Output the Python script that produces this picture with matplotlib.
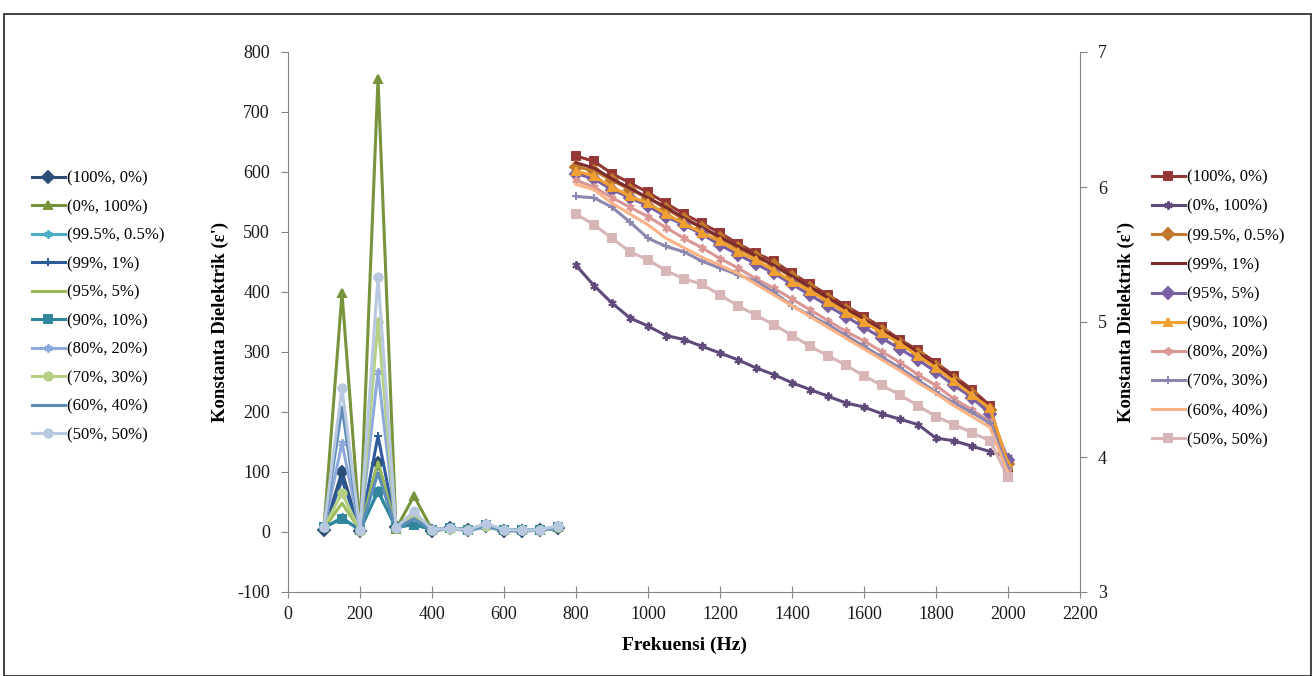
import matplotlib
matplotlib.use("Agg")
import matplotlib.pyplot as plt
from matplotlib.patches import Rectangle

plt.rcParams["font.family"] = ["Liberation Serif", "DejaVu Serif"]
plt.rcParams["axes.unicode_minus"] = False

# frequencies (Hz)
freq_low = [100, 150, 200, 250, 300, 350, 400, 450, 500, 550, 600, 650, 700, 750]
freq_high = [800, 850, 900, 950, 1000, 1050, 1100, 1150, 1200, 1250, 1300, 1350, 1400,
             1450, 1500, 1550, 1600, 1650, 1700, 1750, 1800, 1850, 1900, 1950, 2000]

labels = ["(100%, 0%)", "(0%, 100%)", "(99.5%, 0.5%)", "(99%, 1%)", "(95%, 5%)",
          "(90%, 10%)", "(80%, 20%)", "(70%, 30%)", "(60%, 40%)", "(50%, 50%)"]

# left axis series (low frequency)
low_100_0 = [3, 100, 1, 115, 8, 18, 2, 6, 3, 10, 2, 2, 3, 6]
low_0_100 = [8, 398, 3, 755, 5, 60, 4, 6, 5, 12, 4, 3, 4, 8]
low_995_05 = [6, 25, 2, 70, 6, 15, 3, 5, 3, 8, 3, 2, 3, 6]
low_99_1 = [5, 87, 2, 160, 7, 22, 3, 6, 4, 10, 3, 3, 3, 7]
low_95_5 = [6, 48, 3, 117, 8, 30, 3, 5, 4, 9, 3, 2, 3, 7]
low_90_10 = [8, 22, 4, 67, 8, 12, 4, 6, 4, 12, 4, 3, 4, 9]
low_80_20 = [7, 148, 2, 267, 6, 25, 3, 5, 3, 8, 3, 2, 3, 7]
low_70_30 = [8, 65, 2, 350, 6, 30, 3, 5, 4, 10, 3, 3, 3, 8]
low_60_40 = [7, 208, 2, 98, 6, 22, 3, 6, 4, 10, 3, 3, 3, 8]
low_50_50 = [8, 240, 3, 425, 7, 35, 4, 6, 4, 14, 4, 3, 4, 10]

# right axis series (high frequency)
high_100_0 = [6.23, 6.19, 6.10, 6.03, 5.96, 5.88, 5.80, 5.73, 5.66, 5.58, 5.51, 5.45, 5.36,
              5.28, 5.20, 5.12, 5.04, 4.96, 4.87, 4.79, 4.70, 4.60, 4.50, 4.38, 3.88]
high_0_100 = [5.42, 5.27, 5.14, 5.03, 4.97, 4.90, 4.87, 4.82, 4.77, 4.72, 4.66, 4.61, 4.55,
              4.50, 4.45, 4.40, 4.37, 4.32, 4.28, 4.24, 4.14, 4.12, 4.08, 4.04, 4.00]
high_995_05 = [6.15, 6.12, 6.05, 5.98, 5.92, 5.84, 5.76, 5.70, 5.62, 5.55, 5.48, 5.42, 5.33,
               5.25, 5.17, 5.09, 5.01, 4.93, 4.84, 4.76, 4.67, 4.57, 4.47, 4.35, 3.95]
high_99_1 = [6.18, 6.14, 6.06, 5.99, 5.92, 5.85, 5.77, 5.70, 5.63, 5.56, 5.49, 5.42, 5.34,
             5.26, 5.18, 5.10, 5.02, 4.94, 4.86, 4.77, 4.68, 4.58, 4.48, 4.36, 3.92]
high_95_5 = [6.10, 6.06, 5.98, 5.92, 5.86, 5.78, 5.72, 5.65, 5.57, 5.50, 5.43, 5.36, 5.28,
             5.20, 5.12, 5.04, 4.96, 4.88, 4.80, 4.72, 4.63, 4.53, 4.44, 4.32, 3.98]
high_90_10 = [6.12, 6.08, 6.00, 5.93, 5.88, 5.80, 5.73, 5.66, 5.60, 5.52, 5.46, 5.38, 5.30,
              5.23, 5.15, 5.07, 5.00, 4.92, 4.84, 4.75, 4.66, 4.56, 4.46, 4.36, 3.95]
high_80_20 = [6.05, 6.00, 5.92, 5.85, 5.78, 5.70, 5.62, 5.55, 5.47, 5.40, 5.32, 5.25, 5.17,
              5.09, 5.01, 4.93, 4.86, 4.78, 4.70, 4.61, 4.53, 4.43, 4.35, 4.26, 3.90]
high_70_30 = [5.93, 5.92, 5.85, 5.74, 5.62, 5.56, 5.52, 5.45, 5.40, 5.35, 5.30, 5.22, 5.12,
              5.05, 4.98, 4.90, 4.82, 4.74, 4.66, 4.57, 4.48, 4.40, 4.33, 4.25, 3.92]
high_60_40 = [6.02, 5.98, 5.88, 5.80, 5.72, 5.62, 5.55, 5.48, 5.42, 5.36, 5.28, 5.20, 5.12,
              5.04, 4.96, 4.88, 4.80, 4.72, 4.64, 4.55, 4.47, 4.38, 4.30, 4.22, 3.88]
high_50_50 = [5.80, 5.72, 5.62, 5.52, 5.46, 5.38, 5.32, 5.28, 5.20, 5.12, 5.05, 4.98, 4.90,
              4.82, 4.75, 4.68, 4.60, 4.53, 4.46, 4.38, 4.30, 4.24, 4.18, 4.12, 3.85]

low_series = [low_100_0, low_0_100, low_995_05, low_99_1, low_95_5,
              low_90_10, low_80_20, low_70_30, low_60_40, low_50_50]
high_series = [high_100_0, high_0_100, high_995_05, high_99_1, high_95_5,
               high_90_10, high_80_20, high_70_30, high_60_40, high_50_50]

asterisk = (6, 2, 0)
low_styles = [("#2C4D75", "D"), ("#77933C", "^"), ("#4BACC6", asterisk), ("#2E5C9A", "+"),
              ("#9BBB59", None), ("#31859C", "s"), ("#8EA9DB", asterisk), ("#B5CF83", "o"),
              ("#5B8DB8", None), ("#B7C8E0", "o")]
high_styles = [("#953735", "s"), ("#604A7B", asterisk), ("#C0782C", "D"), ("#7B2B2B", None),
               ("#7A5FA0", "D"), ("#F0A030", "^"), ("#D99694", asterisk), ("#8B87AE", "+"),
               ("#F9B386", None), ("#D8B6B8", "s")]

fig = plt.figure(figsize=(13.15, 6.76), dpi=100)
ax = fig.add_axes([288 / 1315, 1 - 592 / 676, (1080 - 288) / 1315, (592 - 52) / 676])
ax2 = ax.twinx()

low_handles = []
for ys, (c, m), lab in zip(low_series, low_styles, labels):
    h, = ax.plot(freq_low, ys, color=c, marker=m, markersize=6, lw=2.2,
                 markeredgewidth=1.4, label=lab)
    low_handles.append(h)

high_handles = []
for ys, (c, m), lab in zip(high_series, high_styles, labels):
    h, = ax2.plot(freq_high, ys, color=c, marker=m, markersize=6, lw=2.2,
                  markeredgewidth=1.4, label=lab)
    high_handles.append(h)

ax.set_xlim(0, 2200)
ax.set_ylim(-100, 800)
ax.set_xticks(range(0, 2201, 200))
ax.set_yticks(range(-100, 801, 100))
ax2.set_ylim(3, 7)
ax2.set_yticks([3, 4, 5, 6, 7])

axis_col = "#868686"
for a in (ax, ax2):
    a.spines["top"].set_visible(False)
    for s in ("left", "right", "bottom"):
        a.spines[s].set_color(axis_col)
    a.tick_params(colors=axis_col, labelcolor="#1a1a1a", labelsize=13, length=5)
ax.spines["right"].set_visible(False)
ax2.spines["left"].set_visible(False)
ax2.spines["bottom"].set_visible(False)
ax.tick_params(axis="x", direction="inout", length=8, pad=6)
ax.tick_params(axis="y", pad=8)
ax2.tick_params(axis="y", pad=8)

ax.set_xlabel("Frekuensi (Hz)", fontsize=14, fontweight="bold", labelpad=10)
ax.set_ylabel("Konstanta Dielektrik (ε')", fontsize=13.5, fontweight="bold", labelpad=6)
ax2.set_ylabel("Konstanta Dielektrik (ε')", fontsize=13.5, fontweight="bold", labelpad=8)

fig.legend(low_handles, labels, loc="upper left", bbox_to_anchor=(25 / 1315, 1 - 164 / 676),
           frameon=False, fontsize=12, handlelength=2.0, handletextpad=0.1,
           labelspacing=0.75, borderaxespad=0)
fig.legend(high_handles, labels, loc="upper left", bbox_to_anchor=(1145 / 1315, 1 - 163 / 676),
           frameon=False, fontsize=12, handlelength=2.0, handletextpad=0.1,
           labelspacing=0.79, borderaxespad=0)

# outer chart border
fig.patches.append(Rectangle((4 / 1315, 0), 1 - 8 / 1315, 1 - 14 / 676,
                             transform=fig.transFigure, fill=False,
                             edgecolor="#222222", lw=1.2))

fig.savefig("out.png", dpi=100)
